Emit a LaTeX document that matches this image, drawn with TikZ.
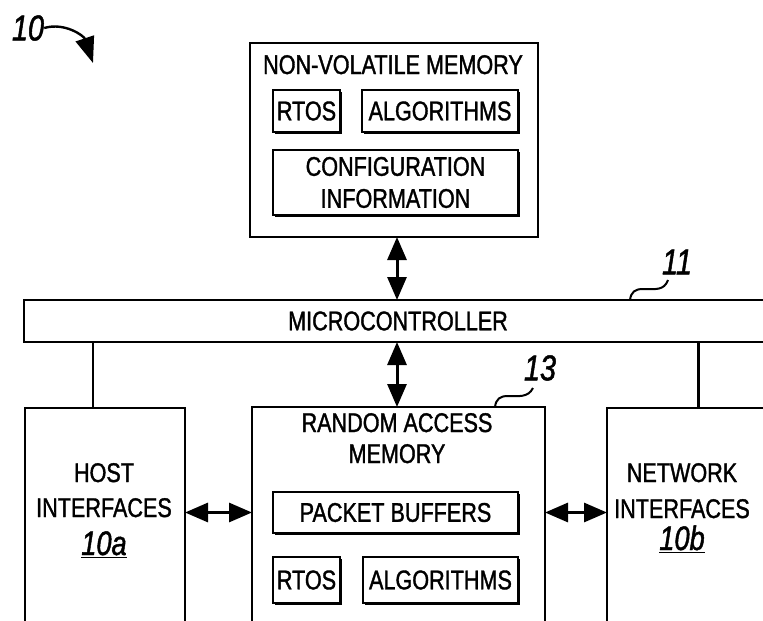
\documentclass[tikz,border=0pt]{standalone}
\usepackage{fontspec}
\setmainfont[FakeStretch=0.8,FakeBold=1.3]{Liberation Sans}
\usetikzlibrary{arrows.meta,shadows}
\newcommand\dgLbl{\fontsize{27}{32}\selectfont}
\newcommand\dgNum{\fontsize{36}{40}\selectfont\itshape}
\newcommand\dgSub{\fontsize{34}{36}\selectfont\itshape}
\begin{document}
\begin{tikzpicture}[x=1pt,y=-1pt,
  box/.style={draw,line width=2.4pt,fill=white,inner sep=0pt,outer sep=0pt},
  sbox/.style={box,line width=2pt,drop shadow={shadow xshift=1.6pt,shadow yshift=-1.6pt,fill=black,opacity=1}},
  txt/.style={font=\dgLbl,inner sep=0pt},
  num/.style={font=\dgNum,inner sep=0pt},
  sub/.style={font=\dgSub,inner sep=0pt},
  dbl/.style={line width=3pt,{Triangle[length=23pt,width=19pt]}-{Triangle[length=23pt,width=19pt]}},
  wire/.style={line width=2.6pt},
  squig/.style={line width=2pt}]
\useasboundingbox (0,0) rectangle (763,621);
\clip (0,0) rectangle (763,621);

% non-volatile memory
\node[box,minimum width=288,minimum height=194] (nvm) at (394,140) {};
\node[txt,anchor=base] (nvmt) at (393,74) {NON-VOLATILE MEMORY};
\node[sbox,txt,minimum width=67,minimum height=42] (rtos1) at (306.5,111) {RTOS};
\node[sbox,txt,minimum width=156,minimum height=42] (alg1) at (440,111) {ALGORITHMS};
\node[sbox,txt,align=center,minimum width=245,minimum height=65] (conf) at (395.5,182.5) {CONFIGURATION\\INFORMATION};

% microcontroller
\node[box,txt,minimum width=748,minimum height=42] (mc) at (398,321) {MICROCONTROLLER};

% random access memory
\node[box,minimum width=293,minimum height=243] (ram) at (398.5,528.5) {};
\node[txt,anchor=base] (ramt1) at (397,432) {RANDOM ACCESS};
\node[txt,anchor=base] (ramt2) at (397,463) {MEMORY};
\node[sbox,txt,minimum width=245,minimum height=41] (pb) at (395.5,512.5) {PACKET BUFFERS};
\node[sbox,txt,minimum width=67,minimum height=46] (rtos2) at (306.5,580) {RTOS};
\node[sbox,txt,minimum width=155,minimum height=46] (alg2) at (440.5,580) {ALGORITHMS};

% host interfaces
\node[box,minimum width=160,minimum height=242] (host) at (105,529) {};
\node[txt,anchor=base] (hostt1) at (104,482) {HOST};
\node[txt,anchor=base] (hostt2) at (104,517) {INTERFACES};
\node[sub,anchor=base] (hostn) at (104,555) {\underline{10a}};

% network interfaces
\node[box,minimum width=183,minimum height=242] (net) at (698.5,529) {};
\node[txt,anchor=base] (nett1) at (682,482) {NETWORK};
\node[txt,anchor=base] (nett2) at (682,518) {INTERFACES};
\node[sub,anchor=base] (netn) at (682,550) {\underline{10b}};

% connectors
\draw[dbl] ([xshift=3]nvm.south) -- ([xshift=3]nvm.south |- mc.north);
\draw[dbl] ([xshift=3]nvm.south |- mc.south) -- ([xshift=3]nvm.south |- ram.north);
\draw[dbl] (host.east |- pb.center) -- (ram.west |- pb.center);
\draw[dbl] (ram.east |- pb.center) -- (net.west |- pb.center);
\draw[wire] ([xshift=-12]host.north) -- ([xshift=-12]host.north |- mc.south);
\draw[wire] (net.north) -- (net.north |- mc.south);

% reference numerals
\node[num] (l10) at (28,28) {10};
\coordinate (t10) at (93,63);
\draw[line width=2.4pt,-{Triangle[length=26pt,width=19pt]}] (l10.east) .. controls (65,22) and (84,36) .. (t10);

\node[num] (l11) at (677,262) {11};
\coordinate (s11a) at ([xshift=232]mc.north);
\coordinate (s11b) at (668,280);
\draw[squig] (s11a) .. controls (631,292) and (635,289) .. (643,289) .. controls (655,289) and (664,291) .. (s11b);

\node[num] (l13) at (540,368) {13};
\coordinate (s13a) at ([xshift=96.5]ram.north);
\coordinate (s13b) at (533,388);
\draw[squig] (s13a) .. controls (496,399) and (500,396) .. (508,396) .. controls (518,396) and (528,398) .. (s13b);
\end{tikzpicture}
\end{document}
